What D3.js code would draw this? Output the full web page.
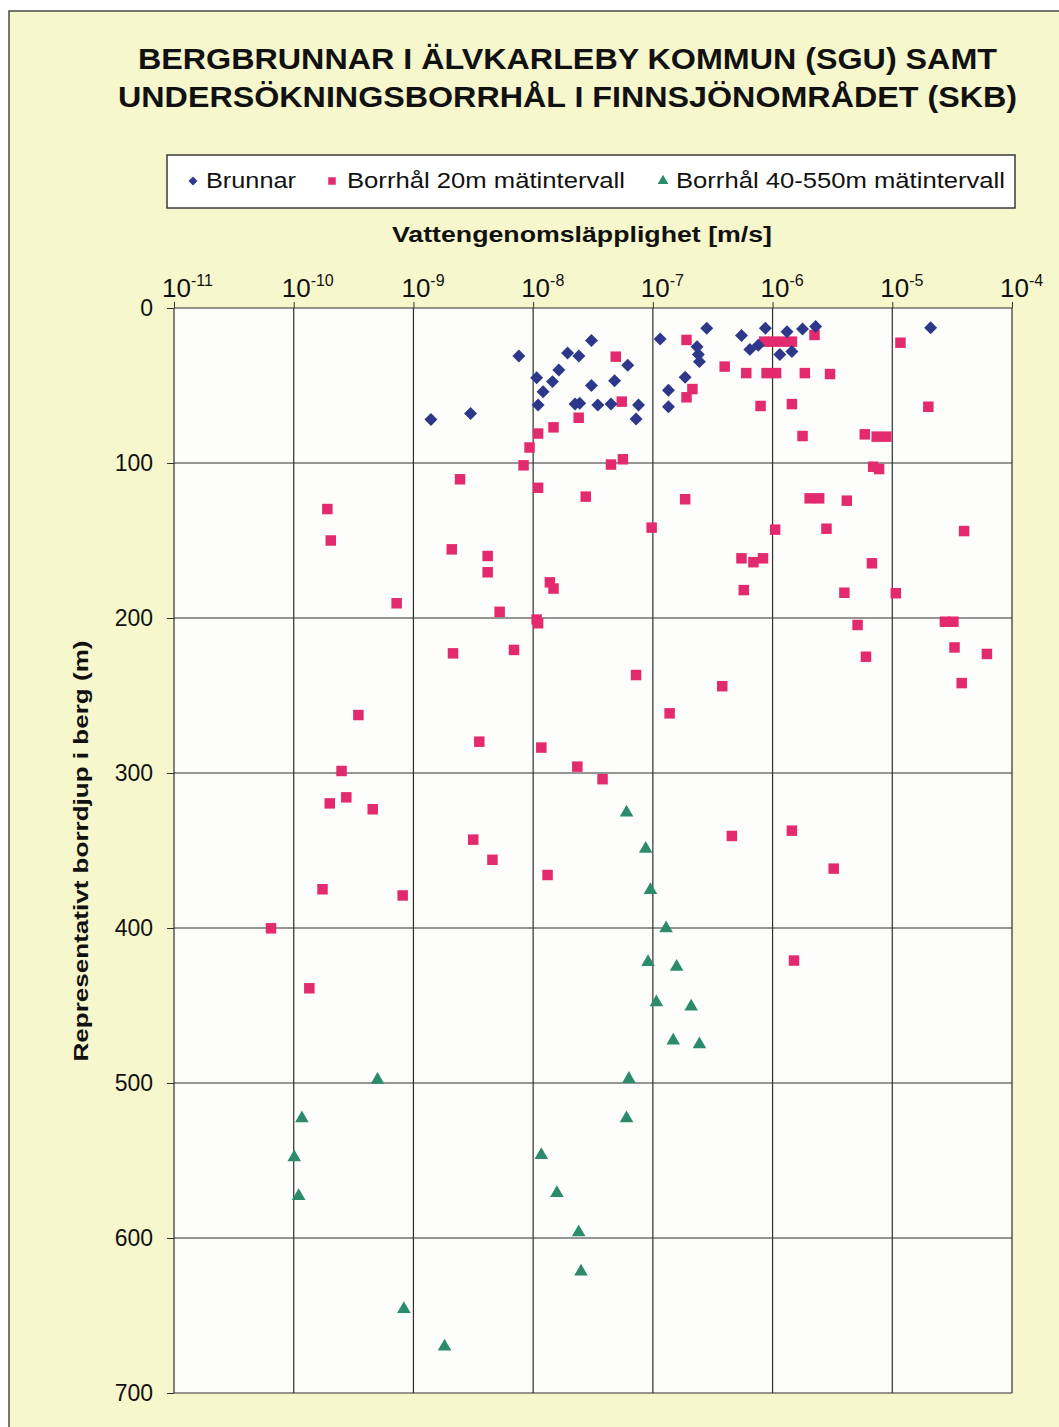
<!DOCTYPE html>
<html>
<head>
<meta charset="utf-8">
<script src="https://cdn.jsdelivr.net/npm/d3@7"></script>
<style>
  body { margin: 0; background: #ffffff; }
  svg { display: block; }
  text { font-family: "Liberation Sans", Arial, sans-serif; fill: #111; }
</style>
</head>
<body>
<div id="chart"></div>
<script>
// Brunnar (SGU) - vattengenomsläpplighet [m/s] och djup [m]
var brunnarK = [7.6e-9, 1.4e-9, 3.0e-9, 3.07e-8, 1.94e-8, 2.41e-8, 1.64e-8, 1.07e-8, 1.45e-8, 3.07e-8,
    4.79e-8, 1.21e-8, 1.10e-8, 2.24e-8, 2.45e-8, 3.47e-8, 4.47e-8, 1.15e-7, 2.82e-7, 2.34e-7,
    2.40e-7, 2.45e-7, 6.17e-8, 1.86e-7, 1.35e-7, 1.35e-7, 7.59e-8, 7.24e-8, 5.50e-7, 8.71e-7,
    6.46e-7, 7.59e-7, 1.32e-6, 1.15e-6, 1.45e-6, 1.78e-6, 2.29e-6, 2.09e-5];
var brunnarDepth = [31, 72, 68, 21, 29, 31, 40, 45, 47.5, 50,
    47, 54, 62.6, 62, 61.5, 62.6, 62, 20, 13, 25,
    30, 34.6, 37, 44.7, 53, 63.7, 62.6, 71.6, 17.8, 13,
    26.7, 24, 15.3, 30, 28, 13.5, 12, 12.7];

// Borrhål 20m mätintervall (SKB)
var borr20K = [4.90e-8, 2.40e-8, 1.48e-8, 1.10e-8, 9.33e-9, 8.32e-9, 4.47e-8, 1.10e-8, 2.45e-9, 2.75e-8,
    1.91e-10, 2.04e-10, 2.09e-9, 4.17e-9, 4.17e-9, 1.38e-8, 1.48e-8, 7.24e-10, 5.25e-9, 1.91e-7,
    2.24e-6, 8.51e-7, 1.02e-6, 1.23e-6, 1.45e-6, 1.17e-5, 3.98e-7, 6.03e-7, 8.91e-7, 1.07e-6,
    1.86e-6, 3.02e-6, 2.14e-7, 1.91e-7, 5.50e-8, 7.94e-7, 1.45e-6, 2.0e-5, 1.78e-6, 5.89e-6,
    7.41e-6, 8.91e-6, 5.62e-8, 6.92e-6, 7.76e-6, 1.86e-7, 2.04e-6, 2.45e-6, 4.17e-6, 9.77e-8,
    1.05e-6, 2.82e-6, 3.98e-5, 5.50e-7, 6.92e-7, 8.32e-7, 6.76e-6, 5.75e-7, 3.98e-6, 1.07e-5,
    1.07e-8, 1.10e-8, 2.14e-9, 6.92e-9, 3.47e-10, 3.55e-9, 1.17e-8, 2.34e-8, 3.80e-8, 2.51e-10,
    2.75e-10, 2.0e-10, 4.57e-10, 3.16e-9, 4.57e-9, 1.32e-8, 1.74e-10, 8.13e-10, 5.13e-6, 2.75e-5,
    3.24e-5, 3.31e-5, 6.17e-5, 3.80e-5, 6.03e-6, 7.24e-8, 3.80e-7, 1.38e-7, 4.57e-7, 1.45e-6,
    3.24e-6, 6.46e-11, 1.35e-10, 1.51e-6];
var borr20Depth = [31.4, 70.8, 77, 81, 90, 101.5, 101, 116, 110.5, 121.7,
    129.7, 150, 155.7, 160, 170.5, 177, 181, 190.5, 196, 20.6,
    17.4, 21.7, 21.7, 21.7, 21.7, 22.4, 37.8, 42, 42, 42,
    42, 42.6, 52.3, 57.6, 60.4, 63.2, 62, 63.7, 82.6, 81.5,
    83, 83, 97.6, 102.4, 103.9, 123.4, 122.8, 122.8, 124.3, 141.7,
    143, 142.4, 143.9, 161.5, 164, 161.5, 164.7, 182, 183.7, 184,
    201, 203.4, 222.8, 220.6, 262.6, 279.8, 283.6, 295.9, 304, 298.7,
    315.7, 319.6, 323.4, 343, 356, 365.8, 375, 379, 204.5, 202.4,
    202.4, 219, 223.2, 242, 225, 236.8, 244, 261.5, 340.6, 337.2,
    361.7, 400.2, 438.9, 421];

// Borrhål 40-550m mätintervall (SKB)
var borr40K = [6.03e-8, 8.71e-8, 9.55e-8, 1.29e-7, 9.12e-8, 1.58e-7, 1.07e-7, 2.09e-7, 1.48e-7, 2.45e-7,
    5.01e-10, 6.31e-8, 1.17e-10, 6.03e-8, 1.01e-10, 1.17e-8, 1.10e-10, 1.58e-8, 2.40e-8, 2.51e-8,
    8.32e-10, 1.82e-9];
var borr40Depth = [325.6, 349, 375.5, 400.2, 422, 425, 448, 450.7, 472.7, 475,
    498, 497.4, 522.8, 522.8, 548, 546.5, 573, 571, 596.3, 621.7,
    645.8, 670];

// Axes
var xTickExp = [-11, -10, -9, -8, -7, -6, -5, -4];
var yTicks = [0, 100, 200, 300, 400, 500, 600, 700];

var titleLines = ["BERGBRUNNAR I ÄLVKARLEBY KOMMUN (SGU) SAMT",
    "UNDERSÖKNINGSBORRHÅL I FINNSJÖNOMRÅDET (SKB)"];
var legendNames = ["Brunnar", "Borrhål 20m mätintervall", "Borrhål 40-550m mätintervall"];

var width = 1059, height = 1427;
var colors = ["#2d388a", "#e32a6e", "#2b8b6c"];

var svg = d3.select("#chart").append("svg")
    .attr("width", width)
    .attr("height", height);

// yellow page background with frame
svg.append("rect")
    .attr("x", 9).attr("y", 11)
    .attr("width", width).attr("height", height)
    .attr("fill", "#f6f7cc")
    .attr("stroke", "#4a4a44")
    .attr("stroke-width", 1.5);

// scales
var x = d3.scaleLog().domain([1e-11, 1e-4]).range([174, 1012]);
var y = d3.scaleLinear().domain([0, 700]).range([308, 1393]);

// plot area
svg.append("rect")
    .attr("x", x.range()[0]).attr("y", y.range()[0])
    .attr("width", x.range()[1] - x.range()[0])
    .attr("height", y.range()[1] - y.range()[0])
    .attr("fill", "#fdfefb");

// title
svg.append("g").selectAll("text")
    .data(titleLines)
    .enter().append("text")
    .attr("x", 567.5)
    .attr("y", function(d, i) { return i ? 107 : 69; })
    .attr("text-anchor", "middle")
    .attr("textLength", function(d, i) { return i ? 899 : 859; })
    .attr("lengthAdjust", "spacingAndGlyphs")
    .style("font-size", "29px")
    .style("font-weight", "bold")
    .text(function(d) { return d; });

// legend
var legend = svg.append("g");
legend.append("rect")
    .attr("x", 167).attr("y", 155)
    .attr("width", 848).attr("height", 53)
    .attr("fill", "#ffffff")
    .attr("stroke", "#3a3a3a")
    .attr("stroke-width", 1.5);

var legendMarkX = [193, 332, 663];
var legendTextX = [206, 347, 676];
var legendTextW = [90, 278, 329];
var legendSymbols = [
    d3.symbol().type(d3.symbolSquare).size(40),
    d3.symbol().type(d3.symbolSquare).size(56),
    d3.symbol().type(d3.symbolTriangle).size(50)
];

legendNames.forEach(function(name, i) {
    legend.append("path")
        .attr("d", legendSymbols[i]())
        .attr("transform", "translate(" + legendMarkX[i] + ",181)" + (i === 0 ? " rotate(45)" : ""))
        .attr("fill", colors[i]);
    legend.append("text")
        .attr("x", legendTextX[i])
        .attr("y", 188)
        .attr("textLength", legendTextW[i])
        .attr("lengthAdjust", "spacingAndGlyphs")
        .style("font-size", "22px")
        .text(name);
});

// x axis title
svg.append("text")
    .attr("x", 582).attr("y", 242)
    .attr("text-anchor", "middle")
    .attr("textLength", 380)
    .attr("lengthAdjust", "spacingAndGlyphs")
    .style("font-size", "22px")
    .style("font-weight", "bold")
    .text("Vattengenomsläpplighet [m/s]");

// y axis title
svg.append("text")
    .attr("transform", "translate(88,851) rotate(-90)")
    .attr("text-anchor", "middle")
    .attr("textLength", 421)
    .attr("lengthAdjust", "spacingAndGlyphs")
    .style("font-size", "21px")
    .style("font-weight", "bold")
    .text("Representativt borrdjup i berg (m)");

// top axis ticks (outward)
var xAxis = d3.axisTop(x)
    .tickValues(xTickExp.map(function(e) { return Math.pow(10, e); }))
    .tickSize(6)
    .tickFormat("");
var gx = svg.append("g")
    .attr("transform", "translate(0," + y.range()[0] + ")")
    .call(xAxis);
gx.select(".domain").remove();
gx.selectAll(".tick line").attr("stroke", "#333");

var yAxis = d3.axisLeft(y)
    .tickValues(yTicks)
    .tickSize(7)
    .tickFormat("");
var gy = svg.append("g")
    .attr("transform", "translate(" + x.range()[0] + ",0)")
    .call(yAxis);
gy.select(".domain").remove();
gy.selectAll(".tick line").attr("stroke", "#333");

// gridlines
var grid = svg.append("g")
    .attr("stroke", "#2f2f2f")
    .attr("stroke-width", 1.2);
grid.selectAll(".v")
    .data(xTickExp)
    .enter().append("line")
    .attr("x1", function(e) { return x(Math.pow(10, e)); })
    .attr("x2", function(e) { return x(Math.pow(10, e)); })
    .attr("y1", y.range()[0]).attr("y2", y.range()[1]);
grid.selectAll(".h")
    .data(yTicks)
    .enter().append("line")
    .attr("y1", function(d) { return y(d); })
    .attr("y2", function(d) { return y(d); })
    .attr("x1", x.range()[0]).attr("x2", x.range()[1]);

// x tick labels 10^n
var xl = svg.append("g").selectAll("text")
    .data(xTickExp)
    .enter().append("text")
    .attr("x", function(e) { return x(Math.pow(10, e)) - 12; })
    .attr("y", 297)
    .style("font-size", "26px");
xl.append("tspan").text("10");
xl.append("tspan")
    .attr("dy", -11)
    .style("font-size", "16px")
    .text(function(e) { return e; });

// y tick labels
svg.append("g").selectAll("text")
    .data(yTicks)
    .enter().append("text")
    .attr("x", 153)
    .attr("y", function(d) { return y(d); })
    .attr("dy", "0.36em")
    .attr("text-anchor", "end")
    .style("font-size", "23px")
    .text(function(d) { return d; });

// markers
function drawSeries(kVals, depths, symbol, color, rot) {
    svg.append("g").selectAll("path")
        .data(kVals.map(function(k, i) { return [k, depths[i]]; }))
        .enter().append("path")
        .attr("d", symbol)
        .attr("transform", function(d) {
            return "translate(" + x(d[0]) + "," + y(d[1]) + ")" + (rot ? " rotate(45)" : "");
        })
        .attr("fill", color);
}

drawSeries(borr20K, borr20Depth, d3.symbol().type(d3.symbolSquare).size(110), colors[1], false);
drawSeries(brunnarK, brunnarDepth, d3.symbol().type(d3.symbolSquare).size(84), colors[0], true);
drawSeries(borr40K, borr40Depth, d3.symbol().type(d3.symbolTriangle).size(80), colors[2], false);
</script>
</body>
</html>
